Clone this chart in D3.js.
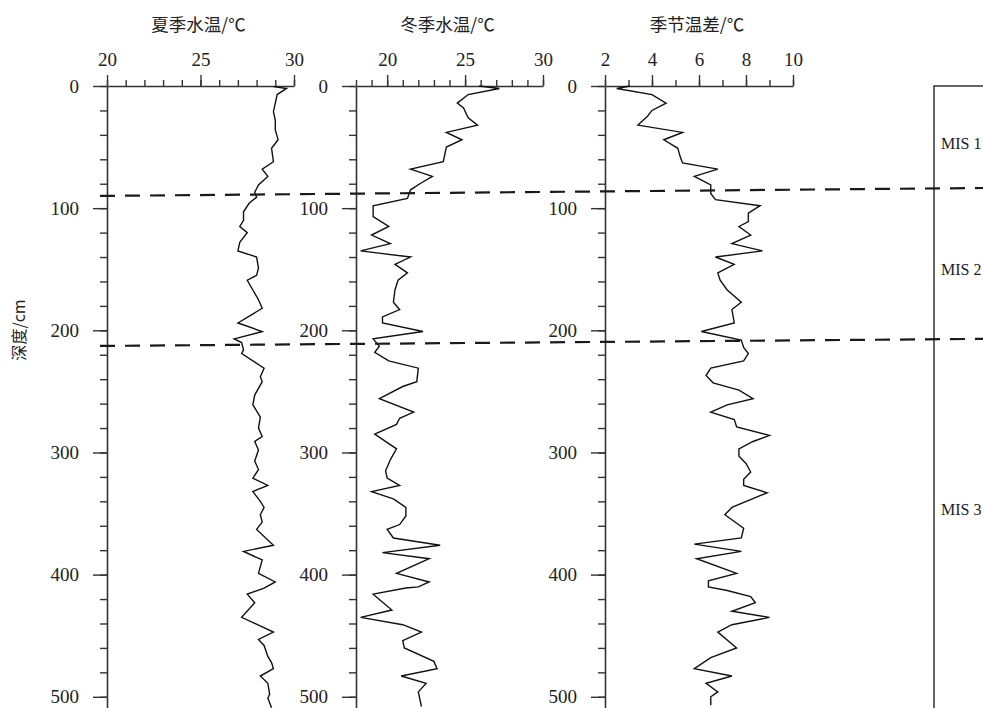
<!DOCTYPE html>
<html><head><meta charset="utf-8">
<script src="https://cdn.jsdelivr.net/npm/d3@7/dist/d3.min.js"></script>
<style>
html,body{margin:0;padding:0;background:#fff;overflow:hidden}
svg{display:block}
</style></head>
<body><svg id="c" width="983" height="708"></svg>
<script>
// ---------- data ----------
const panelTitles = ["夏季水温/℃", "冬季水温/℃", "季节温差/℃"];
const panelDomains = [[20, 30], [18, 30], [2, 10]];
const xTickLabels = [[20, 25, 30], [20, 25, 30], [2, 4, 6, 8, 10]];
const depthTicks = [0, 100, 200, 300, 400, 500];
const depthLabel = "深度/cm";
const misLabels = ["MIS 1", "MIS 2", "MIS 3"];
const misLabelDepths = [47, 150, 347];
// boundary depths at left end / right end of the (slightly tilted) dashed lines
const boundaryDepthsLeft = [90, 212.8];
const boundaryDepthsRight = [83.5, 207];

const summer = [[0.5,28.9],[2,29.6],[7,29.1],[21,28.9],[28,29.0],[36,29.0],[44,29.15],[51,28.8],[62,28.9],[68,28.3],[74,28.6],[81,28.1],[87,27.9],[91,28.0],[96,27.6],[103,27.3],[110,27.3],[115,27.1],[120,27.5],[128,27.1],[135,27.0],[140,28.0],[149,28.1],[155,28.0],[159,27.5],[167,27.8],[175,28.1],[182,28.3],[194,27.0],[201,28.3],[207,26.8],[210,27.2],[216,27.3],[219,27.2],[231,28.4],[238,28.2],[242,28.3],[253,27.9],[261,27.8],[271,28.2],[280,28.1],[287,28.3],[291,27.9],[298,28.1],[307,27.9],[314,28.1],[321,27.8],[327,28.6],[332,27.8],[340,28.2],[345,28.4],[351,28.2],[357,28.3],[363,28.0],[376,28.9],[381,27.3],[388,28.3],[399,28.1],[406,29.0],[411,28.4],[416,27.5],[423,27.9],[435,27.2],[447,28.9],[453,28.1],[458,28.4],[467,28.6],[472,28.8],[477,28.9],[483,28.2],[489,28.6],[498,28.7],[501,28.6],[509,28.8]];

const winter = [[0,25.9],[2,27.2],[7,25.2],[14,24.5],[18,24.9],[26,25.2],[32,25.8],[38,23.8],[44,24.8],[50,23.8],[62,23.6],[68,21.5],[74,22.9],[80,22.1],[85,21.5],[92,21.3],[98,19.1],[107,19.1],[115,20.1],[122,19.0],[129,20.2],[135,18.3],[140,21.5],[146,20.5],[153,21.3],[159,20.7],[167,20.5],[177,20.4],[183,20.8],[189,19.7],[194,19.7],[201,22.3],[207,19.1],[213,19.5],[218,19.2],[225,20.1],[231,22.0],[242,21.9],[246,21.0],[256,19.5],[267,21.7],[272,20.8],[277,20.6],[285,19.2],[297,20.6],[306,20.2],[315,19.9],[321,20.0],[327,20.8],[332,19.0],[338,20.4],[345,21.2],[352,21.2],[359,20.8],[363,20.0],[370,20.4],[376,23.4],[382,19.7],[387,22.7],[399,20.6],[406,22.7],[410,22.0],[411,21.2],[416,19.1],[429,20.3],[435,18.3],[441,21.0],[447,22.2],[454,21.0],[460,21.1],[471,23.0],[477,23.2],[483,20.9],[489,22.5],[496,22.0],[508,22.2]];

const seasonal = [[0,3.06],[2,2.5],[7,4.0],[14,4.6],[20,4.0],[25,3.8],[32,3.4],[38,5.3],[44,4.5],[51,5.1],[58,5.2],[63,5.3],[68,6.8],[74,5.8],[81,6.5],[88,6.5],[93,6.7],[98,8.6],[104,8.1],[111,8.1],[115,7.7],[122,8.2],[129,7.4],[135,8.7],[140,6.7],[146,7.5],[153,6.8],[159,6.9],[167,7.2],[177,7.8],[183,7.4],[194,7.5],[201,6.1],[208,7.8],[214,7.9],[219,8.1],[225,7.9],[231,6.5],[237,6.3],[243,6.6],[249,7.7],[256,8.3],[261,7.2],[267,6.5],[273,7.5],[279,7.6],[286,9.0],[291,8.3],[297,7.7],[303,7.7],[309,8.0],[316,8.2],[322,7.9],[327,7.9],[333,8.9],[345,7.4],[351,7.1],[362,7.9],[370,7.8],[375,5.8],[381,7.8],[387,5.9],[399,7.6],[405,6.4],[410,6.4],[413,7.2],[418,8.2],[423,8.4],[430,7.4],[435,9.0],[441,7.4],[447,6.8],[460,7.6],[468,6.5],[477,5.8],[483,7.4],[489,6.3],[496,6.8],[500,6.5],[507,6.5]];

const seriesList = [summer, winter, seasonal];

// ---------- layout ----------
const svg = d3.select("#c");
const topY = 86, bottomY = 709;
const panelX = [[107, 294], [356, 543], [605, 793]];
const serif = "'Liberation Serif','DejaVu Serif',serif";
const cjk = "'Noto Sans CJK SC','Liberation Serif',serif";
const axisColor = "#333";
const y = d3.scaleLinear().domain([0, 510]).range([topY, bottomY]);

panelDomains.forEach((dom, i) => {
  const x = d3.scaleLinear().domain(dom).range(panelX[i]);
  const g = svg.append("g");

  const minor = d3.range(dom[0], dom[1] + 0.001, 1);
  g.append("g").attr("transform", `translate(0,${topY})`)
    .call(d3.axisTop(x).tickValues(minor).tickSize(6).tickSizeOuter(0).tickFormat(""))
    .call(s => { s.select(".domain").attr("stroke", axisColor).attr("stroke-width", 1.6); s.selectAll("line").attr("stroke", axisColor).attr("stroke-width", 1.4); });
  g.append("g").attr("transform", `translate(0,${topY})`)
    .call(d3.axisTop(x).tickValues(xTickLabels[i]).tickSize(11).tickSizeOuter(0).tickPadding(9))
    .call(s => { s.select(".domain").remove(); s.selectAll("line").attr("stroke", axisColor).attr("stroke-width", 1.4);
      s.selectAll("text").attr("font-family", serif).attr("font-size", 19).attr("fill", "#222"); });

  const x0 = panelX[i][0];
  g.append("g").attr("transform", `translate(${x0},0)`)
    .call(d3.axisLeft(y).tickValues(d3.range(0, 510, 20)).tickSize(7).tickSizeOuter(0).tickFormat(""))
    .call(s => { s.select(".domain").attr("stroke", axisColor).attr("stroke-width", 1.6); s.selectAll("line").attr("stroke", axisColor).attr("stroke-width", 1.4); });
  g.append("g").attr("transform", `translate(${x0},0)`)
    .call(d3.axisLeft(y).tickValues(depthTicks).tickSize(14).tickSizeOuter(0).tickPadding(14))
    .call(s => { s.select(".domain").remove(); s.selectAll("line").attr("stroke", axisColor).attr("stroke-width", 1.4);
      s.selectAll("text").attr("font-family", serif).attr("font-size", 19).attr("fill", "#222"); });

  svg.append("text").attr("x", (panelX[i][0] + panelX[i][1]) / 2 - 2).attr("y", 31)
    .attr("text-anchor", "middle").attr("font-family", cjk).attr("font-size", 17.5).attr("fill", "#222")
    .text(panelTitles[i]);

  const line = d3.line().x(d => x(d[1])).y(d => y(d[0]));
  svg.append("path").datum(seriesList[i]).attr("d", line)
    .attr("fill", "none").attr("stroke", "#111").attr("stroke-width", 1.4).attr("stroke-linejoin", "miter");
});

svg.append("text").attr("transform", "translate(25,330) rotate(-90)")
  .attr("text-anchor", "middle").attr("font-family", cjk).attr("font-size", 16).attr("fill", "#222")
  .text(depthLabel);

svg.append("path").attr("d", `M${990},${topY}H934V${bottomY}`)
  .attr("fill", "none").attr("stroke", axisColor).attr("stroke-width", 1.5);
misLabels.forEach((t, i) => {
  svg.append("text").attr("x", 941).attr("y", y(misLabelDepths[i])).attr("dy", "0.35em")
    .attr("font-family", serif).attr("font-size", 16).attr("fill", "#222").text(t);
});

boundaryDepthsLeft.forEach((d, i) => {
  svg.append("line").attr("x1", 100).attr("x2", 983)
    .attr("y1", y(d)).attr("y2", y(boundaryDepthsRight[i]))
    .attr("stroke", "#1a1a1a").attr("stroke-width", 2.2).attr("stroke-dasharray", "15,10");
});
</script></body></html>
